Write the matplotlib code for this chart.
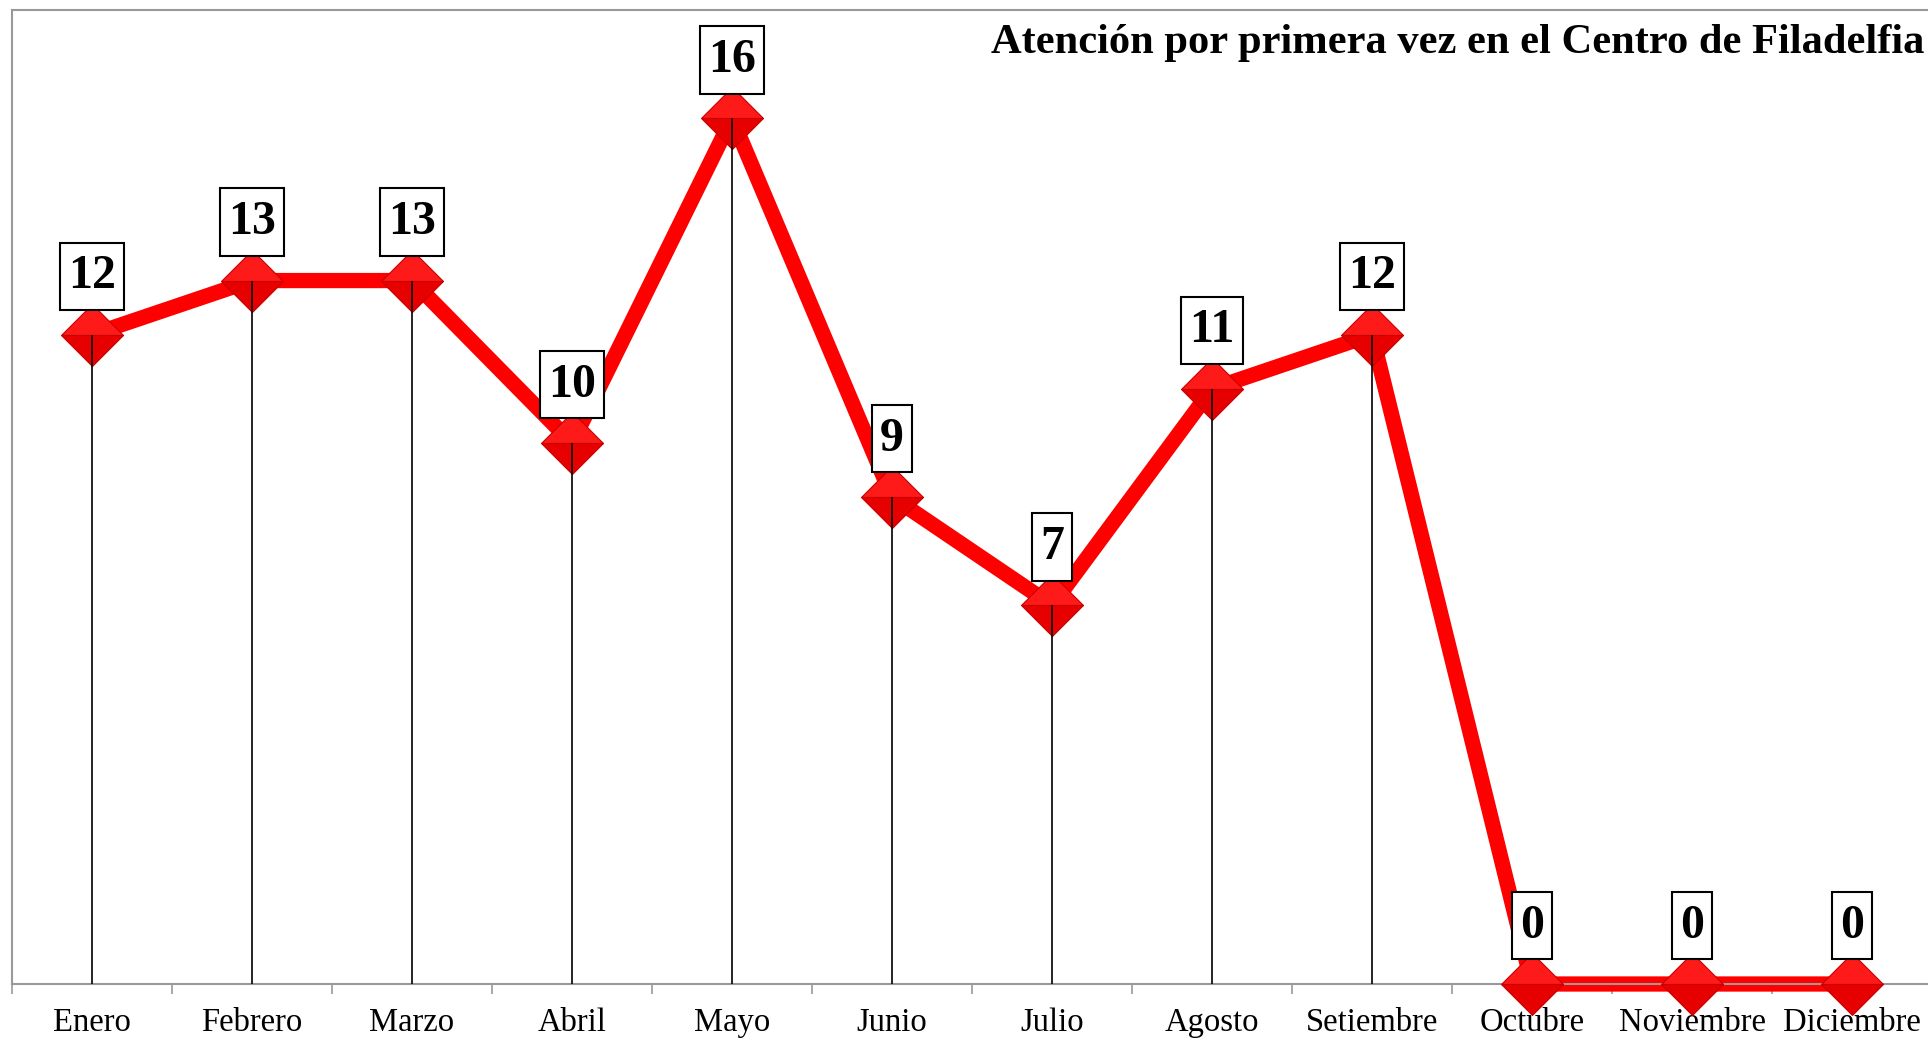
import numpy as np
import matplotlib
matplotlib.use("Agg")
import matplotlib.pyplot as plt

months = ["Enero", "Febrero", "Marzo", "Abril", "Mayo", "Junio", "Julio",
          "Agosto", "Setiembre", "Octubre", "Noviembre", "Diciembre"]
values = [12, 13, 13, 10, 16, 9, 7, 11, 12, 0, 0, 0]
title = "Atención por primera vez en el Centro de Filadelfia"

W, H = 1928, 1039
fig = plt.figure(figsize=(W / 100, H / 100), dpi=100)
left, top, bottom = 12, 10, 984
ax = fig.add_axes([left / W, (H - bottom) / H, 1920 / W, (bottom - top) / H])

x = np.arange(len(months))
ax.set_xlim(-0.5, len(months) - 0.5)
ax.set_ylim(0, 18)

ax.plot(x, values, color="#FF0000", lw=11, zorder=2, solid_joinstyle="miter",
        clip_on=False)
ax.plot(x, values, linestyle="none", marker="D", markersize=32,
        markerfacecolor="#FF1A1A", markerfacecoloralt="#E60000", fillstyle="top",
        markeredgecolor="#C80000", markeredgewidth=0.8, zorder=3, clip_on=False)
ax.vlines(x, 0, values, color="black", lw=1.2, zorder=4)

for xi, v in zip(x, values):
    ax.annotate(str(v), (xi, v), xytext=(0, 42), textcoords="offset points",
                ha="center", va="center", fontsize=34.5, fontweight="bold",
                family="Liberation Serif", zorder=6,
                bbox=dict(boxstyle="square,pad=0.17", fc="white", ec="black",
                          lw=1.5, mutation_aspect=1.45),
                annotation_clip=False)

for s in ["left", "top", "bottom"]:
    ax.spines[s].set_color("#999999")
    ax.spines[s].set_linewidth(1.5)
ax.spines["right"].set_visible(False)

ax.set_yticks([])
ax.set_xticks(x)
ax.set_xticklabels(months, family="Liberation Serif", fontsize=23.5)
ax.tick_params(axis="x", which="major", length=0, pad=17)
ax.set_xticks(np.arange(-0.5, len(months), 1), minor=True)
ax.tick_params(axis="x", which="minor", length=7, width=1.2, color="#999999",
               direction="out")

fig.text(1924 / W, 1 - 53 / H, title, ha="right", va="baseline",
         family="Liberation Serif", fontweight="bold", fontsize=30.6)

fig.savefig("out.png", dpi=100)
